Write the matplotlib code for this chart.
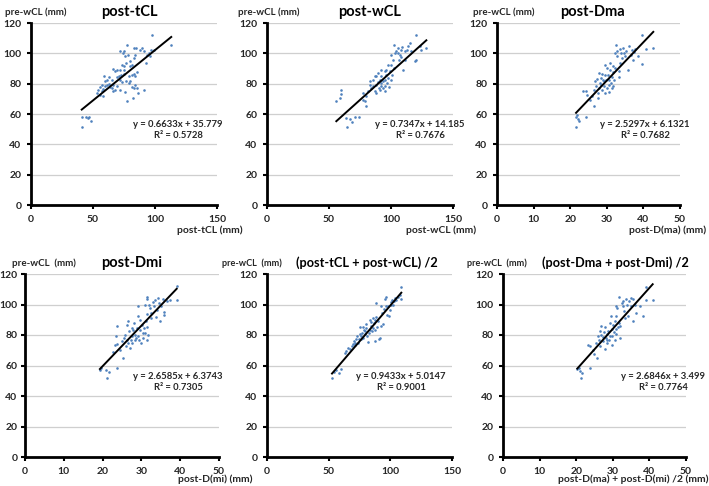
import matplotlib
matplotlib.use("Agg")
import matplotlib.pyplot as plt
import numpy as np

plt.rcParams['font.family'] = ['Lato', 'DejaVu Sans']

# ---------------- data ----------------
p1_x = [40.9, 41, 44.4, 46.3, 47, 48.2, 54.4, 55.7, 57, 58.4, 59.8, 61.1, 59.8, 61, 62.5, 63.8, 58.9, 62.5,
        65.2, 66.5, 67.9, 69.2, 66.5, 58.4, 70.6, 71.9, 72.4, 73.3, 71.4, 69.2, 73.3, 74.6, 75.1, 76.8, 71.9,
        74, 75, 77.3, 78, 76, 80, 81.3, 81.3, 80, 81.3, 82.7, 77.3, 82.1, 84, 85.4, 85.9, 84, 85.4, 82.7, 82.7,
        84, 83.2, 84.8, 87.5, 89.4, 90.8, 91.3, 93.5, 92.9, 94.8, 96.1, 97.5, 98.8, 96.7, 113.1, 66.5, 67.9,
        69.2, 65.2, 57, 55.7, 53, 71.9, 76.8, 78.8, 80, 74.6, 78.8, 76]
p1_y = [51.7, 58.3, 57.9, 57.2, 58.3, 55.7, 76, 72.6, 74.9, 76.4, 78.2, 79.3, 81.5, 82.6, 79.9, 77.7, 85.2, 84.3,
        77, 79.3, 76, 78.2, 74.9, 71.6, 84.8, 82.6, 85.9, 80.8, 89.2, 89.2, 92.5, 89.2, 91.4, 93.6, 101.3,
        100.2, 101.3, 105.7, 99.1, 98.4, 94.7, 92.5, 85.9, 81.5, 77.7, 77, 68.3, 70.5, 79.3, 77, 73.8, 84.8,
        87.4, 86.5, 96.9, 99.1, 103.5, 103.5, 102.4, 103.5, 75.5, 101.3, 99.1, 93.6, 100.2, 98, 112.3, 102.4,
        101.9, 105.7, 89.6, 88.1, 84.3, 82.6, 79.3, 77.7, 73.8, 76, 81.5, 84.8, 91.4, 86.5, 80.4, 74.2]

p2_x = [55.9, 58.6, 59.4, 60, 64, 66.7, 68.5, 64.8, 70.7, 73.9, 77.4, 78.8, 80.1, 77.4, 81.5, 82.8, 84.1, 85.5,
        86.8, 88.2, 88.2, 89.5, 90, 90.9, 91.7, 92.2, 93.5, 92.2, 89.5, 93.5, 94.9, 95.4, 96.2, 97.6, 97, 98.1,
        98.9, 96.2, 94.9, 100.3, 100.8, 102.4, 100.3, 101.6, 100.3, 103, 102.4, 104.3, 105.6, 107, 107.8,
        106.2, 108.3, 109.7, 111, 111.6, 113.2, 113.7, 116.4, 119.1, 120.4, 120.4, 123.1, 124.5, 128.5, 82.8,
        85.5, 86.8, 88.2, 92.2, 97.6, 90.9, 94.9, 80.1, 105.6, 109.1, 115]
p2_y = [68.3, 70.5, 75.5, 73.3, 57.2, 56.6, 55, 51.7, 57.9, 57.9, 69.4, 68.3, 65.4, 73.8, 74.9, 79.3, 77, 78.6,
        74.9, 73.8, 79.3, 80.8, 77, 82.6, 78.6, 80.4, 81.5, 84.8, 87, 77, 78.6, 82.6, 85.9, 83.7, 80.4, 77.7,
        88.1, 89.2, 88.1, 82.6, 85.9, 90.3, 92.5, 95.8, 99.1, 100.2, 105.7, 101.3, 100.2, 99.1, 102.4, 95.8,
        97.5, 89.2, 95.8, 101.3, 102.4, 104.6, 101.3, 94.7, 95.8, 112.3, 104.6, 102.4, 103.5, 81.5, 82.6,
        84.8, 85.2, 89.2, 92.5, 75.9, 74.9, 71.6, 103.5, 104.2, 106.8]

p3_x = [21.6, 21.6, 22, 22.3, 21.8, 24.4, 23.5, 24.4, 24.7, 25.5, 25.9, 26.4, 26.5, 27.1, 26.8, 27.5, 27.7, 28,
        28.2, 28.4, 28, 28.6, 28.6, 29.1, 29.3, 29.5, 29.5, 29.8, 30, 30.2, 30.5, 30.7, 30.7, 30.9, 31.1, 31.4,
        31.4, 31.6, 31.8, 32, 32.3, 32.5, 32.3, 32.9, 32.7, 33.2, 33.2, 33.5, 33.6, 33.8, 34.1, 34.4, 34.7, 35,
        35.3, 35.9, 36.2, 36.5, 36.8, 37.1, 37.3, 37.7, 38.6, 39.5, 39.5, 40.7, 42.7, 29.5, 28.9, 30, 30.9,
        31.6, 28.4, 27.3]
p3_y = [51.7, 57.9, 56.6, 55.7, 59.4, 57.9, 74.9, 74.9, 72.6, 69.4, 71.6, 65.4, 76, 78.6, 81.5, 73.8, 70.5, 77,
        80.4, 83.7, 87, 86.5, 75.9, 78.6, 81.5, 73.8, 92.5, 82.6, 77, 85.9, 79.3, 74.2, 82.6, 89.2, 80.4, 77,
        84.3, 87.4, 78.2, 82.6, 90.3, 105.7, 100.2, 101.3, 98, 88.1, 84.3, 93.6, 102.9, 100.2, 96.9, 103.5,
        100.2, 98, 101.3, 89.2, 104.6, 99.1, 102.4, 95.8, 100.7, 102.9, 98, 112.3, 93.1, 102.9, 103.5, 85.9,
        82.6, 90.3, 93.6, 91.4, 79.3, 83]

p4_x = [19.3, 19.5, 21, 21.7, 21.2, 23.6, 22.8, 23.2, 23.8, 23.4, 23.6, 24.5, 24.9, 25.3, 25.5, 25.8, 26, 26.2,
        26.4, 26.6, 26.9, 27.1, 27.2, 27.5, 27.7, 27.9, 28.1, 28.4, 28.4, 28.6, 28.8, 29, 29, 29.2, 29.5, 29.6,
        29.6, 29.8, 30.1, 30.3, 30.5, 30.7, 30.9, 31.2, 31.4, 31.4, 31.5, 31.8, 30.9, 31.4, 31.5, 32, 32.2,
        32.4, 32.6, 32.9, 33.2, 33.5, 33.8, 33.9, 34.4, 34.6, 34.8, 35, 35.5, 35.7, 35.8, 36.5, 37.4, 39.1,
        39.1, 27.5, 26.6]
p4_y = [57.3, 58.5, 57.3, 55.5, 51.8, 58.5, 68.6, 73.7, 74.3, 79.1, 86.1, 70.4, 75.9, 64.9, 78, 80.2, 73, 76.9,
        86.8, 89, 82.4, 71.5, 76.9, 79.1, 74.8, 83.5, 88, 76.9, 80.2, 78, 84.6, 92.3, 99.3, 79.1, 76.9, 83.5,
        90.1, 74.8, 86.8, 81.3, 78, 84.6, 81.3, 89, 76.9, 94, 85.2, 80.2, 100, 103.3, 104.9, 100, 97.7, 94.5,
        91.2, 101.5, 98.8, 102.8, 91.9, 96.6, 104.4, 101.1, 89, 98.8, 103.3, 93.4, 94.9, 102.2, 102.8, 111.9,
        103.1, 84.6, 74.8]

p5_x = [52.7, 54.3, 56.2, 58.1, 60.3, 63, 64.3, 65.7, 67, 68.9, 69.7, 70.5, 71.1, 71.6, 72.4, 73.2, 73.8, 74.3,
        75.1, 75.1, 75.9, 76.5, 77, 77.8, 78.6, 79.2, 79.7, 80.5, 81.4, 81.9, 82.4, 83.2, 84.1, 84.6, 85.1,
        85.9, 86.8, 87.3, 87.8, 88.6, 88.6, 89.5, 90, 90.5, 91.4, 92.2, 92.7, 93.2, 94.1, 94.9, 95.9, 96.8,
        96.8, 97.6, 98.1, 98.6, 99.5, 100.3, 100.8, 101.4, 102.2, 103, 103.5, 104.9, 106.2, 107.6, 108.4,
        108.9, 80.5, 83.2, 85.9, 87.3, 77.8]
p5_y = [51.5, 55.8, 56.9, 55, 57.6, 68.4, 69.5, 71.7, 70.6, 72.8, 73.9, 76.1, 73.2, 75, 77.1, 79.3, 74.5, 77.6,
        80.4, 85.3, 77.1, 79.3, 81.5, 78.2, 83.6, 80.4, 82.6, 84.7, 79.3, 75.4, 81.5, 83.6, 85.8, 88.4, 82.6,
        84.7, 88, 90.1, 76.1, 91.9, 101, 85.3, 89, 77.1, 78.2, 86.2, 98.8, 94.1, 86.9, 97.1, 103.6, 104.9,
        98.8, 93.4, 98.8, 92.3, 96.7, 99.9, 101.4, 103.1, 99.9, 102.1, 104.2, 103.1, 104.9, 106.4, 103.6,
        111.5, 86.9, 90.1, 91.2, 83.6, 85.3]

p6_x = [20.3, 20.8, 21, 21.7, 21.2, 23.9, 23.3, 23.9, 24.5, 24.8, 25.5, 25.7, 26, 26.3, 26.5, 26.6, 26.9, 27.2,
        27.4, 27.6, 27.8, 27.8, 28.1, 28.3, 28.5, 28.7, 29, 29.2, 29.2, 29.4, 29.7, 29.7, 29.9, 30.1, 30.3,
        30.6, 30.6, 30.8, 31, 31, 31.2, 31.5, 31.8, 31.9, 32.1, 31, 31.8, 32.4, 32.7, 32.8, 33, 33.3, 33.6,
        33.9, 34.2, 34.5, 34.9, 35.1, 35.4, 35.6, 36, 36.3, 37.4, 38.3, 39.1, 39.2, 40.9, 28.3, 26.9]
p6_y = [57.7, 58.4, 56.2, 55.1, 51.8, 58.4, 73.7, 73, 70.4, 67.8, 74.8, 64.9, 79.6, 77, 82.8, 72.6, 86.1, 78.9,
        76, 81.7, 85, 70.8, 78.3, 80.5, 74.8, 82.8, 77, 79.1, 88, 92.4, 73.7, 83.9, 79.1, 86.6, 81.7, 89, 77,
        83.9, 92.4, 80.5, 97.7, 85, 88, 78.3, 85.8, 98.8, 104.9, 101.1, 98.8, 102.2, 95.6, 91.2, 103.3, 100,
        92.3, 102.2, 98.8, 104.4, 89, 103.3, 100, 94.5, 98.8, 92.6, 102.8, 111.5, 102.8, 77, 80.2]

titles = ["post-tCL", "post-wCL", "post-Dma", "post-Dmi", "(post-tCL + post-wCL) /2", "(post-Dma + post-Dmi) /2"]
slopes = [0.6633, 0.7347, 2.5297, 2.6585, 0.9433, 2.6846]
intercepts = [35.779, 14.185, 6.1321, 6.3743, 5.0147, 3.499]
r2 = ["0.5728", "0.7676", "0.7682", "0.7305", "0.9001", "0.7764"]
xmax = [150, 150, 50, 50, 150, 50]
xstep = [50, 50, 10, 10, 50, 10]
xlabels = ["post-tCL (mm)", "post-wCL (mm)", "post-D(ma) (mm)", "post-D(mi) (mm)", "",
           "post-D(ma) + post-D(mi) /2 (mm)"]
ylabels = ["pre-wCL (mm)", "pre-wCL (mm)", "pre-wCL (mm)", "pre-wCL  (mm)", "pre-wCL  (mm)", "pre-wCL  (mm)"]
xs = [p1_x, p2_x, p3_x, p4_x, p5_x, p6_x]
ys = [p1_y, p2_y, p3_y, p4_y, p5_y, p6_y]

# ---------------- layout ----------------
W, H = 709, 486
fig = plt.figure(figsize=(W / 100, H / 100), dpi=100)

def fx(px):
    return px / W

def fy(py):
    return 1 - py / H

# axes boxes in pixels: left, right, top, bottom
boxes = [(31, 217, 23, 205), (267, 453, 23, 205), (497, 680, 23, 205),
         (25, 219, 274, 457), (267, 452, 274, 457), (503, 686, 274, 457)]
title_pos = [(129, 12), (370, 12), (592, 12), (132, 263), (367, 263), (615, 263)]
title_size = [10.5, 10.5, 10.5, 10.5, 9.2, 9.2]
ylab_pos = [(5, 12), (238, 12), (473, 12), (12, 263), (222, 263), (467, 263)]
ylab_size = [7, 7, 7, 7, 6.6, 6.6]
xlab_pos = [(243, 230), (476, 230), (706, 230), (252, 479), (452, 479), (708, 479)]
eq_pos = [(178, 130), (420, 130), (645, 130), (178, 382), (401, 382), (663, 382)]
ypad = [4, 4, 4, 2.5, 4, 4]

tick_col = "#262626"
for i in range(6):
    l, r, t, b = boxes[i]
    ax = fig.add_axes([fx(l), fy(b), (r - l) / W, (b - t) / H])
    ax.scatter(xs[i], ys[i], s=3.5, color="#4F81BD", linewidths=0, zorder=3)
    xl = np.array([min(xs[i]), max(xs[i])])
    ax.plot(xl, slopes[i] * xl + intercepts[i], color="black", lw=1.4, zorder=4)
    ax.set_xlim(0, xmax[i])
    ax.set_ylim(0, 120)
    ax.set_xticks(np.arange(0, xmax[i] + 1, xstep[i]))
    ax.set_yticks(np.arange(0, 121, 20))
    ax.yaxis.grid(True, color="#CFCFCF", lw=0.9)
    ax.set_axisbelow(True)
    for s in ("top", "right"):
        ax.spines[s].set_visible(False)
    for s in ("left", "bottom"):
        ax.spines[s].set_linewidth(2)
        ax.spines[s].set_color("black")
    ax.tick_params(direction="out", length=3, width=1.5, color="black",
                   labelsize=7.5, labelcolor=tick_col, pad=4)
    ax.tick_params(axis="y", pad=ypad[i])
    for lab in ax.get_xticklabels() + ax.get_yticklabels():
        lab.set_fontweight("bold")

    fig.text(fx(title_pos[i][0]), fy(title_pos[i][1]), titles[i], ha="center", va="center",
             fontsize=title_size[i], fontweight="bold", color="black")
    fig.text(fx(ylab_pos[i][0]), fy(ylab_pos[i][1]), ylabels[i], ha="left", va="center",
             fontsize=ylab_size[i], fontweight="bold", color=tick_col)
    if xlabels[i]:
        fig.text(fx(xlab_pos[i][0]), fy(xlab_pos[i][1]), xlabels[i], ha="right", va="center",
                 fontsize=7.5, fontweight="bold", color=tick_col)
    eq = "y = %sx + %s\nR\u00b2 = %s" % (slopes[i], intercepts[i], r2[i])
    fig.text(fx(eq_pos[i][0]), fy(eq_pos[i][1]), eq, ha="center", va="center",
             multialignment="center", fontsize=6.8, fontweight="bold", color=tick_col,
             linespacing=1.3)

fig.savefig("out.png", dpi=100)
